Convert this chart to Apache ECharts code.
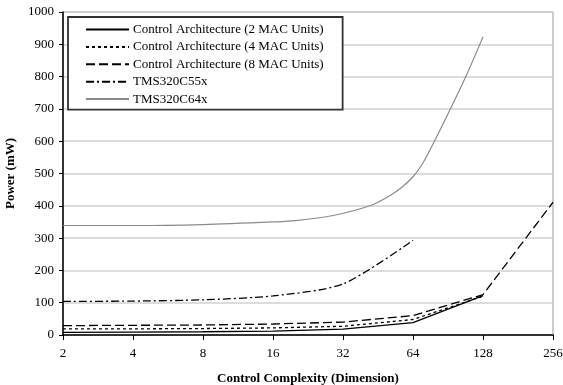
<!DOCTYPE html>
<html>
<head>
<meta charset="utf-8">
<script src="https://cdn.jsdelivr.net/npm/echarts@6/dist/echarts.min.js"></script>
<style>
  html, body { margin: 0; padding: 0; background: #fff; }
  #main { width: 563px; height: 385px; }
</style>
</head>
<body>
<div id="main"></div>
<script>
// x values (dimension) and power readings (mW)
const dims = [2, 4, 8, 16, 32, 64, 128, 256];
const mac2 = [8, 9, 10, 12, 18, 38, 122];
const mac4 = [19, 19, 20, 22, 27, 48, 120];
const mac8 = [29, 30, 31, 34, 40, 60, 125, 411];
const c55x = [104, 105, 109, 121, 158, 293];
const c64xDims = [2, 4, 8, 16, 20, 29, 42, 51, 57, 64, 70, 76, 91, 108, 128];
const c64x = [339, 339, 342, 350, 354, 370, 401, 432, 456, 490, 528, 575, 688, 800, 923];
const yTicks = [0, 1000, 100];

const names = [
  'Control Architecture (2 MAC Units)',
  'Control Architecture (4 MAC Units)',
  'Control Architecture (8 MAC Units)',
  'TMS320C55x',
  'TMS320C64x'
];

const pts = (xs, ys) => ys.map((v, i) => [xs[i], v]);
const font = 'Liberation Serif';

let myChart = echarts.init(document.getElementById('main'));
let option = {
  animation: false,
  backgroundColor: '#fff',
  grid: {
    left: 63, right: 10, top: 12, bottom: 50,
    outerBoundsMode: 'none',
    show: true, borderColor: '#999', borderWidth: 1
  },
  legend: {
    orient: 'vertical',
    left: 68, top: 17,
    padding: [6, 19, 4, 17],
    itemWidth: 43, itemHeight: 14, itemGap: 4.4,
    borderColor: '#333', borderWidth: 1.8,
    backgroundColor: '#fff',
    itemStyle: { color: 'transparent', borderWidth: 0, opacity: 0 },
    textStyle: { fontFamily: font, fontSize: 13, color: '#000', padding: [0, 0, 0, -1] },
    data: names
  },
  xAxis: {
    type: 'log',
    logBase: 2,
    min: dims[0], max: dims[dims.length - 1],
    interval: 1,
    name: 'Control Complexity (Dimension)',
    nameLocation: 'middle',
    nameGap: 37,
    nameTextStyle: { fontFamily: font, fontSize: 13, fontWeight: 'bold', color: '#000' },
    axisLine: { show: true, lineStyle: { color: '#000', width: 1.5 } },
    axisTick: { show: true, length: 5, lineStyle: { color: '#000', width: 1 } },
    axisLabel: { fontFamily: font, fontSize: 13, color: '#000', margin: 12 },
    splitLine: { show: false },
    minorTick: { show: false }
  },
  yAxis: {
    type: 'value',
    min: yTicks[0], max: yTicks[1], interval: yTicks[2],
    name: 'Power (mW)',
    nameLocation: 'middle',
    nameGap: 40,
    nameTextStyle: { fontFamily: font, fontSize: 13, fontWeight: 'bold', color: '#000' },
    axisLine: { show: true, lineStyle: { color: '#000', width: 1.5 } },
    axisTick: { show: true, length: 4, lineStyle: { color: '#000', width: 1 } },
    axisLabel: { fontFamily: font, fontSize: 13, color: '#000', margin: 9, formatter: v => String(v) },
    splitLine: { show: true, lineStyle: { color: '#d0d0d0', width: 1.5 } }
  },
  series: [
    {
      name: names[0], type: 'line', symbol: 'none',
      lineStyle: { color: '#000', width: 1.3, type: 'solid' },
      data: pts(dims, mac2)
    },
    {
      name: names[1], type: 'line', symbol: 'none',
      lineStyle: { color: '#000', width: 1.3, type: [3, 3] },
      data: pts(dims, mac4)
    },
    {
      name: names[2], type: 'line', symbol: 'none',
      lineStyle: { color: '#000', width: 1.3, type: [9, 4] },
      data: pts(dims, mac8)
    },
    {
      name: names[3], type: 'line', symbol: 'none', smooth: 0.25,
      lineStyle: { color: '#000', width: 1.3, type: [8, 3, 2, 3] },
      data: pts(dims, c55x)
    },
    {
      name: names[4], type: 'line', symbol: 'none', smooth: 0.3,
      lineStyle: { color: '#8a8a8a', width: 1.2, type: 'solid' },
      data: pts(c64xDims, c64x)
    }
  ]
};
myChart.setOption(option);
</script>
</body>
</html>
